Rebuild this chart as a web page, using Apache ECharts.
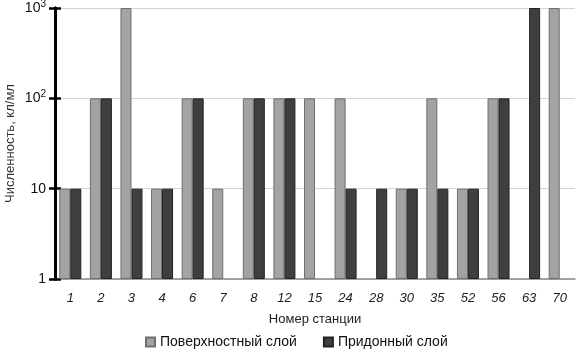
<!DOCTYPE html>
<html><head><meta charset="utf-8">
<script src="https://cdn.jsdelivr.net/npm/echarts@6/dist/echarts.min.js"></script>
<style>html,body{margin:0;padding:0;background:#fff}#c{width:579px;height:362px}</style>
</head><body><div id="c"></div>
<script>
const stations = ['1','2','3','4','6','7','8','12','15','24','28','30','35','52','56','63','70'];
const surface = [10,100,1000,10,100,10,100,100,100,100,null,10,100,10,100,null,1000];
const bottom  = [10,100,10,10,100,null,100,100,null,10,10,10,10,10,100,1000,null];
const seriesNames = ['Поверхностный слой','Придонный слой'];
const yTicks = {1:'{b|1}',10:'{b|10}',100:'{b|10}{s|2}',1000:'{b|10}{s|3}'};

const chart = echarts.init(document.getElementById('c'));
const font = 'Liberation Sans, Arial, sans-serif';
const yBase = {
  type:'log', logBase:10, min:1, max:1000,
  axisLine:{show:true,lineStyle:{color:'#000',width:3}},
  splitLine:{show:false}, minorTick:{show:false}
};
chart.setOption({
  animation:false,
  grid:{left:55,right:4,top:8,bottom:83,containLabel:false,outerBoundsMode:'none'},
  legend:{
    data:seriesNames, bottom:8, left:140, itemGap:26,
    itemWidth:9, itemHeight:9, icon:'rect',
    textStyle:{fontFamily:font,fontSize:14,color:'#111'}
  },
  xAxis:{
    type:'category', data:stations,
    name:'Номер станции', nameLocation:'middle', nameGap:34,
    nameTextStyle:{fontFamily:font,fontSize:13,color:'#222'},
    axisLine:{lineStyle:{color:'#8c8c8c',width:1.5}},
    axisTick:{show:false},
    axisLabel:{fontFamily:font,fontStyle:'italic',fontSize:13,color:'#222',margin:13}
  },
  yAxis:[
    Object.assign({}, yBase, {
      name:'Численность, кл/мл', nameLocation:'middle', nameGap:38, nameMoveOverlap:false,
      nameTextStyle:{fontFamily:font,fontSize:13,color:'#333'},
      axisTick:{show:true,length:6,lineStyle:{color:'#000',width:2.5}},
      splitLine:{show:true,lineStyle:{color:'#d4d4d4',width:1}},
      axisLabel:{margin:9,
        formatter:v=>yTicks[Math.round(v)]||'',
        rich:{
          b:{fontFamily:font,fontSize:14,color:'#111'},
          s:{fontFamily:font,fontSize:10,color:'#111',padding:[0,0,8,0]}
        }}
    }),
    Object.assign({}, yBase, {
      position:'left',
      axisTick:{show:true,inside:true,length:6,lineStyle:{color:'#000',width:2.5}},
      axisLabel:{show:false}
    })
  ],
  series:[
    {name:seriesNames[0], type:'bar', data:surface, barGap:'0%', barWidth:11,
     itemStyle:{color:'#a3a3a3',borderColor:'#6e6e6e',borderWidth:1}},
    {name:seriesNames[1], type:'bar', data:bottom, barWidth:11,
     itemStyle:{color:'#3f3f3f',borderColor:'#222',borderWidth:1}}
  ]
});
</script></body></html>
